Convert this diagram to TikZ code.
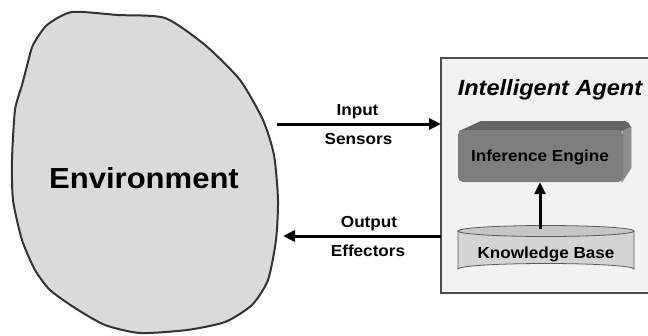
\documentclass[tikz,border=0pt]{standalone}
\usepackage{fontspec}
\setmainfont{Liberation Sans}
\usetikzlibrary{arrows.meta}

\definecolor{envfill}{HTML}{DADADA}
\definecolor{agentfill}{HTML}{F2F2F2}
\definecolor{agentline}{HTML}{4D4D4D}
\definecolor{enginefront}{HTML}{7E7E7E}
\definecolor{enginetop}{HTML}{646464}
\definecolor{engineside}{HTML}{8E8E8E}
\definecolor{kbbody}{HTML}{D4D4D4}
\definecolor{kbtop}{HTML}{C6C6C6}

\tikzset{
  flow/.style={line width=3pt, -{Triangle[length=12pt,width=11pt]}},
  lbl/.style={font=\bfseries\fontsize{16}{16}\selectfont, inner sep=0pt, anchor=base},
}
\newcommand{\wide}[1]{\scalebox{1.07}[1]{#1}}

\begin{document}
\begin{tikzpicture}[x=1pt, y=-1pt]
\useasboundingbox (0,0) rectangle (648,335);

% environment blob
\draw[fill=envfill, draw=black!80, line width=2pt]
  plot[smooth cycle, tension=0.4] coordinates {
    (72,12) (118,15) (165,18) (205,45) (240,80) (263,120) (274,155)
    (278,200) (276,240) (268,280) (252,305) (225,322) (187,330)
    (140,333) (105,325) (75,308) (50,290) (35,270) (22,240) (13,200)
    (12,160) (15,110) (22,85) (28,62) (33,45) (47,25)};
\node[font=\bfseries\fontsize{29}{29}\selectfont, inner sep=0pt, anchor=base]
  (env) at (144,188) {\wide{Environment}};

% agent panel (runs past the right edge of the page)
\draw[fill=agentfill, draw=agentline, line width=1.2pt] (441,58) rectangle (700,293);
\node[font=\bfseries\itshape\fontsize{22}{22}\selectfont, inner sep=0pt, anchor=base]
  (agent) at (550,95) {\wide{Intelligent Agent}};

% inference engine block (front, top and side faces)
\fill[enginetop] (459,131) -- (481,121) -- (625,121)
  to[out=0, in=120] (631,127) -- (623,131) -- cycle;
\fill[engineside, draw=black!45, line width=0.6pt]
  (623,131) -- (631,127) -- (631,168) -- (622,182) -- cycle;
\node[fill=enginefront, rounded corners=5pt, minimum width=165pt, minimum height=52pt,
  inner sep=0pt] (engine) at (540.5,156) {};
\node[lbl] at (540,161.5) {\wide{Inference Engine}};

% knowledge base cylinder
\path[fill=kbbody, draw=black!65, line width=0.8pt]
  (458,231) -- (458,269) arc[start angle=180, end angle=360, x radius=88, y radius=5.5]
  -- (634,231);
\draw[fill=kbtop, draw=black!65, line width=0.8pt] (546,231) ellipse[x radius=88, y radius=5.5];
\coordinate (kbtopc) at (540,229);
\node[inner sep=0pt, minimum width=176pt, minimum height=49pt] (kb) at (546,250) {};
\node[lbl] at (546,258.3) {\wide{Knowledge Base}};

\draw[flow] (kbtopc) -- (engine.south -| kbtopc);

% sensor and effector arrows
\coordinate (inL) at (277,124);
\coordinate (inR) at (441,124);
\coordinate (outR) at (441,236);
\coordinate (outL) at (283,236);
\draw[flow] (inL) -- (inR);
\draw[flow] (outR) -- (outL);

\node[lbl] (input) at (357.5,115) {\wide{Input}};
\node[lbl] (sensors) at (358.5,144) {\wide{Sensors}};
\node[lbl] (output) at (369,227.5) {\wide{Output}};
\node[lbl] (effectors) at (368,256.5) {\wide{Effectors}};
\end{tikzpicture}
\end{document}
